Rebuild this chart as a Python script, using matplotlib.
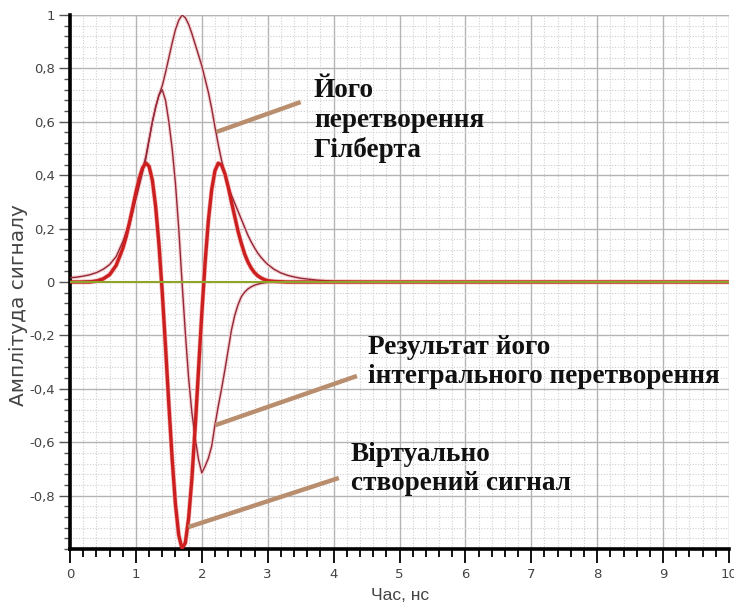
import matplotlib.pyplot as plt
from matplotlib.ticker import MultipleLocator, FuncFormatter

# time axis, ns
T = [0.0, 0.1, 0.2, 0.3, 0.4, 0.5, 0.6, 0.7, 0.8,
     0.85, 0.9, 0.95, 1.0, 1.05, 1.1, 1.15, 1.2, 1.25, 1.3, 1.35, 1.4,
     1.45, 1.5, 1.55, 1.6, 1.65, 1.7, 1.75, 1.8, 1.85, 1.9, 1.95, 2.0,
     2.05, 2.1, 2.15, 2.2, 2.25, 2.3, 2.35, 2.4, 2.45, 2.5, 2.55, 2.6,
     2.65, 2.7, 2.75, 2.8, 2.85, 2.9, 2.95, 3.0,
     3.1, 3.2, 3.3, 3.4, 3.5, 3.75, 4.0, 4.5, 10.0]

# virtual signal (thick red)
SIGNAL = [0, 0, 0, 0, 0.003, 0.011, 0.027, 0.062, 0.125,
          0.168, 0.22, 0.277, 0.335, 0.388, 0.427, 0.446, 0.433, 0.381, 0.282, 0.141, -0.039,
          -0.244, -0.458, -0.662, -0.832, -0.948, -0.999, -0.977, -0.885, -0.735, -0.542, -0.33, -0.119,
          0.073, 0.231, 0.346, 0.417, 0.445, 0.438, 0.406, 0.357, 0.30, 0.245, 0.19, 0.145,
          0.105, 0.075, 0.052, 0.035, 0.023, 0.015, 0.009, 0.005,
          0.002, 0.001, 0, 0, 0, 0, 0, 0, 0]

# result of its integral transform (thin)
INTEGRAL = [0, 0, 0.002, 0.004, 0.007, 0.014, 0.03, 0.065, 0.125,
            0.165, 0.21, 0.26, 0.31, 0.36, 0.41, 0.46, 0.53, 0.6, 0.655, 0.70, 0.72,
            0.68, 0.60, 0.50, 0.37, 0.20, 0.0, -0.19, -0.36, -0.49, -0.585, -0.665, -0.715,
            -0.69, -0.66, -0.615, -0.535, -0.465, -0.40, -0.33, -0.255, -0.18, -0.125, -0.085, -0.055,
            -0.038, -0.026, -0.018, -0.012, -0.008, -0.005, -0.003, -0.002,
            -0.001, 0, 0, 0, 0, 0, 0, 0, 0]

# its Hilbert transform (thin envelope)
HILBERT = [0.016, 0.018, 0.022, 0.027, 0.035, 0.047, 0.065, 0.095, 0.15,
           0.185, 0.225, 0.27, 0.32, 0.37, 0.42, 0.47, 0.535, 0.6, 0.655, 0.70, 0.735,
           0.785, 0.84, 0.895, 0.945, 0.98, 1.0, 0.99, 0.965, 0.93, 0.89, 0.85, 0.81,
           0.76, 0.71, 0.65, 0.58, 0.515, 0.455, 0.405, 0.36, 0.325, 0.295, 0.265, 0.235,
           0.205, 0.175, 0.15, 0.128, 0.108, 0.092, 0.078, 0.066,
           0.047, 0.034, 0.025, 0.019, 0.014, 0.007, 0.003, 0.001, 0]

LABELS = ["Його\nперетворення\nГілберта",
          "Результат його\nінтегрального перетворення",
          "Віртуально\nстворений сигнал"]
# left edge and baseline of the last line of each label
LABEL_XY = [(3.70, 0.468), (4.52, -0.378), (4.26, -0.779)]
POINTER_FROM = [(2.222, 0.562), (2.207, -0.536), (1.796, -0.918)]
POINTER_TO = [(3.50, 0.674), (4.353, -0.352), (4.079, -0.734)]

RED = "#cc1f1f"
THIN = "#93283a"
GREEN = "#8fa52a"
TAN = "#b88e6e"
TXT = "#444444"


def comma(v, _pos):
    s = f"{v:.1f}".rstrip("0").rstrip(".")
    if s in ("-0", ""):
        s = "0"
    return s.replace(".", ",")


fig = plt.figure(figsize=(7.34, 6.04), dpi=100)
ax = fig.add_axes([70 / 734, 55 / 604, 659 / 734, 534 / 604])

ax.set_xlim(0, 10)
ax.set_ylim(-1, 1)
ax.xaxis.set_major_locator(MultipleLocator(1))
ax.xaxis.set_minor_locator(MultipleLocator(0.2))
ax.set_yticks([-0.8, -0.6, -0.4, -0.2, 0, 0.2, 0.4, 0.6, 0.8, 1.0])
ax.yaxis.set_minor_locator(MultipleLocator(0.04))
ax.yaxis.set_major_formatter(FuncFormatter(comma))

ax.grid(True, which="major", color="#b4b4b4", linewidth=1.0)
ax.grid(True, which="minor", color="#cfcfcf", linewidth=0.8, linestyle=(0, (1, 1.5)))
ax.axhline(1.0, color="#b4b4b4", linewidth=1.0)
ax.set_axisbelow(True)

for side in ("top", "right"):
    ax.spines[side].set_visible(False)
for side in ("left", "bottom"):
    ax.spines[side].set_linewidth(2.6)
    ax.spines[side].set_color("black")

ax.tick_params(axis="x", which="major", length=10, width=1.3, color="black",
               labelsize=9.5, labelcolor=TXT, pad=4)
ax.tick_params(axis="x", which="minor", length=6, width=1.3, color="black")
ax.tick_params(axis="y", which="major", length=8, width=1.0, color="#555555",
               labelsize=9.5, labelcolor=TXT, pad=3)
ax.tick_params(axis="y", which="minor", length=4, width=1.0, color="#555555")

# faint halos like the source rendering
ax.plot(T, HILBERT, color="#f4d0d0", linewidth=2.6, zorder=2)
ax.plot(T, INTEGRAL, color="#f4d0d0", linewidth=2.6, zorder=2)
ax.plot(T, SIGNAL, color="#f3b8b8", linewidth=3.4, zorder=2)

ax.plot(T, HILBERT, color=THIN, linewidth=1.0, zorder=3)
ax.plot(T, INTEGRAL, color=THIN, linewidth=1.0, zorder=3)
ax.plot(T, SIGNAL, color=RED, linewidth=2.4, zorder=4)
ax.axhline(0, color=GREEN, linewidth=1.5, zorder=5)

for (x0, y0), (x1, y1) in zip(POINTER_FROM, POINTER_TO):
    ax.plot([x0, x1], [y0, y1], color=TAN, linewidth=3.2, solid_capstyle="butt", zorder=6)

for text, (x, y) in zip(LABELS, LABEL_XY):
    ax.text(x, y, text, fontsize=19.6, fontweight="bold", family="Liberation Serif",
            color="#111111", ha="left", va="baseline", linespacing=1.22, zorder=7)

fig.text(400 / 734, 1 - 596 / 604, "Час, нс", ha="center", va="center",
         fontsize=12.5, color=TXT, family="Liberation Sans")
fig.text(19 / 734, 1 - 305 / 604, "Амплітуда сигналу", ha="center", va="center",
         rotation=90, fontsize=14.5, color=TXT, family="DejaVu Sans")

fig.savefig("out.png", dpi=100, facecolor="white")
